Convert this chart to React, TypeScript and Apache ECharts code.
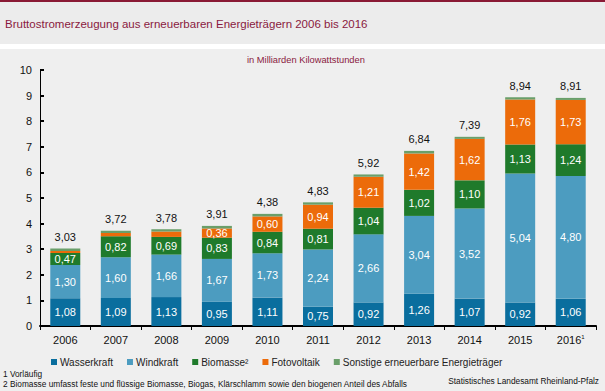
import React, { useEffect, useRef } from "react";
import * as echarts from "echarts";

const years = ["2006", "2007", "2008", "2009", "2010", "2011", "2012", "2013", "2014", "2015", "2016"];
const wasserkraft = [1.08, 1.09, 1.13, 0.95, 1.11, 0.75, 0.92, 1.26, 1.07, 0.92, 1.06];
const windkraft = [1.3, 1.6, 1.66, 1.67, 1.73, 2.24, 2.66, 3.04, 3.52, 5.04, 4.8];
const biomasse = [0.47, 0.82, 0.69, 0.83, 0.84, 0.81, 1.04, 1.02, 1.1, 1.13, 1.24];
const fotovoltaik = [0.08, 0.12, 0.21, 0.36, 0.6, 0.94, 1.21, 1.42, 1.62, 1.76, 1.73];
const sonstige = [0.1, 0.09, 0.09, 0.1, 0.1, 0.09, 0.09, 0.1, 0.08, 0.09, 0.08];
const totals = [3.03, 3.72, 3.78, 3.91, 4.38, 4.83, 5.92, 6.84, 7.39, 8.94, 8.91];
const yTicks = [0, 1, 2, 3, 4, 5, 6, 7, 8, 9, 10];
const hiddenLabelYearsPV = ["2006", "2007", "2008"];

const FONT = "Arial, 'Liberation Sans', sans-serif";
const fmt = (v: number) => v.toFixed(2).replace(".", ",");

export default function App() {
  const ref = useRef<HTMLDivElement>(null);
  useEffect(() => {
    if (!ref.current) return;
    const chart = echarts.init(ref.current, null, { renderer: "svg" });
    const inside = (show: boolean | ((i: number) => boolean)) => ({
      show: true,
      position: "inside" as const,
      color: "#ffffff",
      fontSize: 11,
      fontFamily: FONT,
      formatter: (p: any) => {
        const ok = typeof show === "function" ? show(p.dataIndex) : show;
        return ok ? fmt(p.value) : "";
      },
    });
    const mk = (name: string, data: number[], color: string, label: any) => ({
      name,
      type: "bar",
      stack: "total",
      data,
      barWidth: 30,
      itemStyle: { color },
      label,
      emphasis: { disabled: true },
    });
    chart.setOption({
      animation: false,
      backgroundColor: "#efefef",
      textStyle: { fontFamily: FONT },
      grid: { left: 40, right: 9, top: 70, bottom: 65, containLabel: false },
      xAxis: {
        type: "category",
        data: years,
        axisLine: { lineStyle: { color: "#000", width: 2 } },
        axisTick: { show: true, length: 4, lineStyle: { color: "#000" } },
        axisLabel: {
          interval: 0,
          color: "#111",
          fontSize: 11,
          margin: 8,
          fontFamily: FONT,
          formatter: (v: string) => (v === "2016" ? "{a|" + v + "}{s|1}" : "{a|" + v + "}"),
          rich: {
            a: { fontSize: 11, color: "#111", fontFamily: FONT },
            s: { fontSize: 6, color: "#111", verticalAlign: "top", padding: [0, 0, 6, 0], fontFamily: FONT },
          },
        },
      },
      yAxis: {
        type: "value",
        min: yTicks[0],
        max: yTicks[yTicks.length - 1],
        interval: 1,
        splitLine: { show: false },
        axisLine: { show: true, lineStyle: { color: "#000", width: 1 } },
        axisTick: { show: true, inside: true, length: 4, lineStyle: { color: "#000", width: 2 } },
        axisLabel: { color: "#111", fontSize: 11, margin: 8, fontFamily: FONT },
      },
      legend: {
        bottom: 19,
        left: 46,
        icon: "rect",
        itemWidth: 6,
        itemHeight: 6,
        itemGap: 14,
        textStyle: { color: "#222", fontSize: 10, fontFamily: FONT, padding: [0, 0, 0, -2] },
        data: ["Wasserkraft", "Windkraft", "Biomasse²", "Fotovoltaik", "Sonstige erneuerbare Energieträger"],
      },
      series: [
        mk("Wasserkraft", wasserkraft, "#0a6e9e", inside(true)),
        mk("Windkraft", windkraft, "#4c9cc0", inside(true)),
        mk("Biomasse²", biomasse, "#1f7a2b", inside(true)),
        mk("Fotovoltaik", fotovoltaik, "#ec6b0a", inside((i) => !hiddenLabelYearsPV.includes(years[i]))),
        mk("Sonstige erneuerbare Energieträger", sonstige, "#6a9f6a", {
          show: true,
          position: "top",
          distance: 6,
          color: "#111",
          fontSize: 11,
          fontFamily: FONT,
          formatter: (p: any) => fmt(totals[p.dataIndex]),
        }),
      ],
      graphic: [
        { type: "rect", left: 0, top: 0, shape: { width: 605, height: 44 }, style: { fill: "#ececec" }, silent: true },
        { type: "rect", left: 0, top: 0, shape: { width: 605, height: 2 }, style: { fill: "#8a1a35" }, silent: true },
        { type: "rect", left: 0, top: 44, shape: { width: 605, height: 5 }, style: { fill: "#ffffff" }, silent: true },
        {
          type: "text",
          left: 5,
          top: 18,
          style: { text: "Bruttostromerzeugung aus erneuerbaren Energieträgern 2006 bis 2016", fill: "#8a1a40", fontSize: 11.5, fontFamily: FONT },
        },
        {
          type: "text",
          left: 247,
          top: 55,
          style: { text: "in Milliarden Kilowattstunden", fill: "#8a1a40", fontSize: 9.3, fontFamily: FONT },
        },
        {
          type: "text",
          left: 3,
          top: 370,
          style: { text: "1 Vorläufig", fill: "#111", fontSize: 8.3, fontFamily: FONT },
        },
        {
          type: "text",
          left: 3,
          top: 380,
          style: { text: "2 Biomasse umfasst feste und flüssige Biomasse, Biogas, Klärschlamm sowie den biogenen Anteil des Abfalls", fill: "#111", fontSize: 8.3, fontFamily: FONT },
        },
        {
          type: "text",
          right: 6,
          top: 377,
          style: { text: "Statistisches Landesamt Rheinland-Pfalz", fill: "#111", fontSize: 8.3, fontFamily: FONT },
        },
      ],
    });
    return () => chart.dispose();
  }, []);
  return <div ref={ref} style={{ width: 605, height: 391, position: "absolute", left: 0, top: 0 }} />;
}
